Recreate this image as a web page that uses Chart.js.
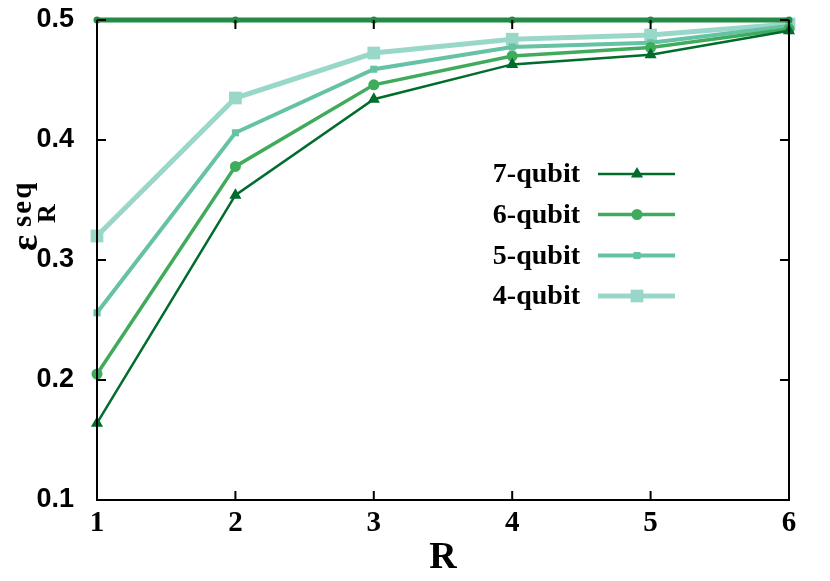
<!DOCTYPE html>
<html>
<head>
<meta charset="utf-8">
<script src="https://cdn.jsdelivr.net/npm/chart.js@4"></script>
<style>
html,body{margin:0;padding:0;background:#fff;}
#wrap{width:830px;height:581px;position:relative;}
</style>
</head>
<body>
<div id="wrap"><canvas id="c" width="830" height="581"></canvas></div>
<script>
const rounds = [1, 2, 3, 4, 5, 6];
const yTicks = [0.1, 0.2, 0.3, 0.4, 0.5];
const bound = [0.5, 0.5, 0.5, 0.5, 0.5, 0.5];
const q7 = [0.164, 0.354, 0.434, 0.463, 0.471, 0.491];
const q6 = [0.205, 0.378, 0.446, 0.470, 0.477, 0.4925];
const q5 = [0.256, 0.406, 0.459, 0.4775, 0.481, 0.495];
const q4 = [0.320, 0.435, 0.4725, 0.484, 0.4875, 0.4967];
const seriesLabels = ['7-qubit', '6-qubit', '5-qubit', '4-qubit'];

const colors = {bound:'#238b45', q7:'#006d2c', q6:'#41ab5d', q5:'#66c2a4', q4:'#99d8c9'};

function pts(arr){ return rounds.map((r,i)=>({x:r, y:arr[i]})); }

function ds(label, data, color, width, style, radius, legend){
  return {label, data:pts(data), borderColor:color, backgroundColor:color,
    borderWidth:width, pointStyle:style, pointRadius:radius, pointHoverRadius:radius,
    pointBorderWidth:0, tension:0, clip:false, showInLegend:legend};
}

const datasets = [
  ds('bound', bound, colors.bound, 5, 'circle', 3.5, false),
  ds(seriesLabels[0], q7, colors.q7, 2.5, 'triangle', 7, true),
  ds(seriesLabels[1], q6, colors.q6, 3.5, 'circle', 5.5, true),
  ds(seriesLabels[2], q5, colors.q5, 4, 'rect', 5, true),
  ds(seriesLabels[3], q4, colors.q4, 5, 'rect', 9, true),
];

const framePlugin = {
  id:'frame',
  afterDatasetsDraw(chart){
    const {ctx, chartArea:a, scales:{x, y}} = chart;
    ctx.save();
    ctx.strokeStyle = '#000';
    ctx.lineWidth = 2;
    ctx.beginPath();
    ctx.moveTo(a.left, a.top); ctx.lineTo(a.left, a.bottom); ctx.lineTo(a.right, a.bottom); ctx.lineTo(a.right, a.top);
    const tl = 9;
    rounds.forEach(r=>{
      const px = x.getPixelForValue(r);
      ctx.moveTo(px, a.bottom); ctx.lineTo(px, a.bottom - tl);
      ctx.moveTo(px, a.top); ctx.lineTo(px, a.top + tl);
    });
    yTicks.forEach(v=>{
      const py = y.getPixelForValue(v);
      ctx.moveTo(a.left, py); ctx.lineTo(a.left + tl, py);
      ctx.moveTo(a.right, py); ctx.lineTo(a.right - tl, py);
    });
    ctx.stroke();
    ctx.restore();
  },
  afterDraw(chart){
    const ctx = chart.ctx;
    ctx.save();
    const rows = [174, 214.5, 255.5, 296];
    const textRight = 580, lx0 = 598, lx1 = 675, mx = 637;
    chart.data.datasets.filter(d=>d.showInLegend).forEach((d,i)=>{
      const yy = rows[i];
      ctx.font = 'bold 28px "Liberation Serif", "Times New Roman", serif';
      ctx.fillStyle = '#000';
      ctx.textAlign = 'right';
      ctx.textBaseline = 'middle';
      ctx.fillText(d.label, textRight, yy + 1);
      ctx.strokeStyle = d.borderColor;
      ctx.lineWidth = d.borderWidth;
      ctx.beginPath(); ctx.moveTo(lx0, yy); ctx.lineTo(lx1, yy); ctx.stroke();
      ctx.fillStyle = d.backgroundColor;
      Chart.helpers.drawPoint(ctx, {pointStyle:d.pointStyle, radius:d.pointRadius, borderWidth:0}, mx, yy);
    });
    ctx.translate(0, 251);
    ctx.rotate(-Math.PI/2);
    ctx.fillStyle = '#000';
    ctx.textAlign = 'left';
    ctx.textBaseline = 'alphabetic';
    ctx.font = 'bold 38px "Liberation Serif", "Times New Roman", serif';
    ctx.fillText('ε', 0, 37);
    ctx.font = 'bold 26px "Liberation Serif", "Times New Roman", serif';
    ctx.fillText('R', 28, 55);
    ctx.font = 'bold 29px "Liberation Serif", "Times New Roman", serif';
    if ('letterSpacing' in ctx) ctx.letterSpacing = '2px';
    ctx.fillText('seq', 24, 31);
    ctx.restore();
  }
};

new Chart(document.getElementById('c'), {
  type:'line',
  data:{datasets},
  options:{
    responsive:false,
    animation:false,
    events:[],
    layout:{padding:{left:0, top:20, right:41, bottom:0}},
    plugins:{legend:{display:false}, tooltip:{enabled:false}},
    scales:{
      x:{
        type:'linear', min:1, max:6,
        grid:{display:false}, border:{display:false},
        afterBuildTicks(s){ s.ticks = rounds.map(v=>({value:v})); },
        ticks:{color:'#000', padding:-2, maxRotation:0, autoSkip:false,
          font:{family:'"Liberation Serif", "Times New Roman", serif', weight:'bold', size:29},
          callback:v=>String(v)},
        title:{display:true, text:'R', color:'#000', padding:{top:-14, bottom:0},
          font:{family:'"Liberation Serif", "Times New Roman", serif', weight:'bold', size:38}},
        afterFit(s){ s.height = 81; s.paddingLeft = 0; s.paddingRight = 0; }
      },
      y:{
        type:'linear', min:0.1, max:0.5,
        grid:{display:false}, border:{display:false},
        afterBuildTicks(s){ s.ticks = yTicks.map(v=>({value:v})); },
        ticks:{color:'#000', padding:15,
          font:{family:'"Liberation Sans", Arial, sans-serif', weight:'bold', size:27},
          callback:v=>v.toFixed(1)},
        afterFit(s){ s.width = 97; s.paddingTop = 0; s.paddingBottom = 0; }
      }
    }
  },
  plugins:[framePlugin]
});
</script>
</body>
</html>
